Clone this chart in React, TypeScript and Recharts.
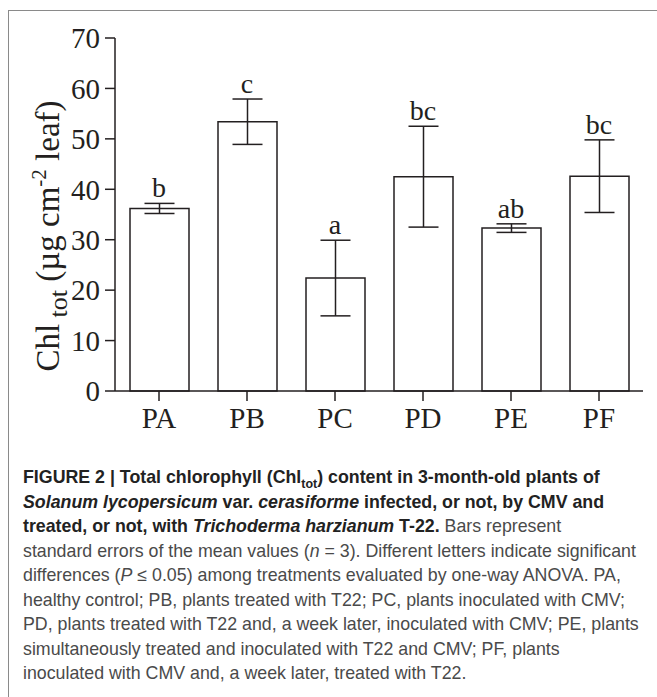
import React from 'react';
import { ComposedChart, Bar, Line, XAxis, YAxis, ErrorBar, LabelList, Label } from 'recharts';

const categories = ['PA', 'PB', 'PC', 'PD', 'PE', 'PF'];
const means = [36.2, 53.4, 22.4, 42.5, 32.3, 42.6];
const errors = [1.0, 4.5, 7.5, 10.0, 0.85, 7.2];
const letters = ['b', 'c', 'a', 'bc', 'ab', 'bc'];
const yTicks = [0, 10, 20, 30, 40, 50, 60, 70];

const data = categories.map((c, i) => ({
  name: c,
  mean: means[i],
  err: errors[i],
  top: means[i] + errors[i],
  letter: letters[i],
}));

const INK = '#231f20';
const SERIF = '"Liberation Serif", "Times New Roman", serif';
const SANS = '"Liberation Sans", Arial, sans-serif';

const YLabel = () => (
  <text transform="translate(59, 236) rotate(-90)" textAnchor="middle" fontFamily={SERIF} fontSize={33} fill={INK}>
    <tspan>Chl</tspan>
    <tspan fontSize={26} dy={8}> tot</tspan>
    <tspan dy={-8}> (µg cm</tspan>
    <tspan fontSize={21} dy={-13}>-2</tspan>
    <tspan dy={13}> leaf)</tspan>
  </text>
);

export default function App() {
  return (
    <div style={{ position: 'absolute', left: 0, top: 0, width: 657, height: 697, background: '#fff', overflow: 'hidden' }}>
      <div style={{ position: 'absolute', left: 8, top: 10, width: 1, height: 700, background: '#8a8a8a' }} />
      <div style={{ position: 'absolute', left: 8, top: 10, width: 660, height: 1, background: '#8a8a8a' }} />
      <div style={{ position: 'absolute', left: 0, top: 0 }}>
        <ComposedChart width={657} height={440} data={data} margin={{ top: 38, right: 14, left: 0, bottom: 0 }}>
          <XAxis
            dataKey="name"
            height={49}
            tickSize={10}
            tickMargin={6}
            axisLine={{ stroke: INK, strokeWidth: 1.5 }}
            tickLine={{ stroke: INK, strokeWidth: 1.5 }}
            tick={{ fontFamily: SERIF, fontSize: 29, fill: INK }}
          />
          <XAxis xAxisId="top" dataKey="name" orientation="top" height={0} tick={false} tickLine={false} axisLine={{ stroke: INK, strokeWidth: 1.5 }} />
          <YAxis
            domain={[0, 70]}
            ticks={yTicks}
            width={115}
            tickSize={10}
            tickMargin={5}
            axisLine={{ stroke: INK, strokeWidth: 1.5 }}
            tickLine={{ stroke: INK, strokeWidth: 1.5 }}
            tick={{ fontFamily: SERIF, fontSize: 29, fill: INK }}
          >
            <Label content={YLabel} />
          </YAxis>
          <YAxis yAxisId="right" orientation="right" domain={[0, 70]} width={0} tick={false} tickLine={false} axisLine={{ stroke: INK, strokeWidth: 1.5 }} />
          <Bar dataKey="mean" fill="#fff" stroke={INK} strokeWidth={1.5} barSize={59} isAnimationActive={false}>
            <ErrorBar dataKey="err" width={15} stroke={INK} strokeWidth={1.5} />
          </Bar>
          <Line dataKey="top" stroke="none" dot={false} activeDot={false} isAnimationActive={false}>
            <LabelList dataKey="letter" position="top" offset={6} fontFamily={SERIF} fontSize={28} fill={INK} />
          </Line>
        </ComposedChart>
      </div>
      <div style={{ position: 'absolute', left: 23, top: 465, width: 630, fontFamily: SANS, fontSize: 17.8, lineHeight: '24.5px', color: '#4a4a4a', whiteSpace: 'nowrap' }}>
        <div style={{ fontWeight: 'bold', color: '#222' }}>
          FIGURE 2 | Total chlorophyll (Chl<sub style={{ fontSize: '0.7em', lineHeight: 0 }}>tot</sub>) content in 3-month-old plants of
        </div>
        <div style={{ fontWeight: 'bold', color: '#222' }}>
          <i>Solanum lycopersicum</i> var. <i>cerasiforme</i> infected, or not, by CMV and
        </div>
        <div>
          <b style={{ color: '#222' }}>treated, or not, with <i>Trichoderma harzianum</i> T-22.</b> Bars represent
        </div>
        <div>standard errors of the mean values (<i>n</i> = 3). Different letters indicate significant</div>
        <div>differences (<i>P</i> ≤ 0.05) among treatments evaluated by one-way ANOVA. PA,</div>
        <div>healthy control; PB, plants treated with T22; PC, plants inoculated with CMV;</div>
        <div>PD, plants treated with T22 and, a week later, inoculated with CMV; PE, plants</div>
        <div>simultaneously treated and inoculated with T22 and CMV; PF, plants</div>
        <div>inoculated with CMV and, a week later, treated with T22.</div>
      </div>
    </div>
  );
}
